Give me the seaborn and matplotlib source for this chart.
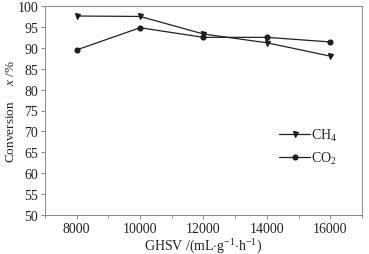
import matplotlib
matplotlib.use("Agg")
import matplotlib.pyplot as plt
import seaborn as sns
import pandas as pd
from matplotlib.ticker import MultipleLocator

ghsv = [8000, 10000, 12000, 14000, 16000]
ch4 = [97.6, 97.5, 93.3, 91.2, 88.0]
co2 = [89.5, 94.8, 92.5, 92.5, 91.4]

sns.set_style("ticks")
plt.rcParams['font.family'] = ['Liberation Serif', 'DejaVu Serif']
plt.rcParams['mathtext.fontset'] = 'custom'
plt.rcParams['mathtext.rm'] = 'Liberation Serif'
plt.rcParams['mathtext.it'] = 'Liberation Serif:italic'

df = pd.DataFrame({'GHSV': ghsv * 2,
                   'Conv': ch4 + co2,
                   'gas': ['CH$_4$'] * 5 + ['CO$_2$'] * 5})

fig = plt.figure(figsize=(3.69, 2.55), dpi=100)
ax = fig.add_axes([45 / 369, 1 - 216 / 255, 317 / 369, 209 / 255])

sns.lineplot(data=df, x='GHSV', y='Conv', hue='gas', style='gas',
             markers={'CH$_4$': 'v', 'CO$_2$': 'o'}, dashes=False,
             palette={'CH$_4$': '#222222', 'CO$_2$': '#222222'},
             markersize=3.6, linewidth=0.9, markeredgecolor='#111111', ax=ax)

ax.set_xlim(7000, 17000)
ax.set_ylim(50, 100)
ax.xaxis.set_major_locator(MultipleLocator(2000))
ax.xaxis.set_minor_locator(MultipleLocator(1000))
ax.yaxis.set_major_locator(MultipleLocator(5))
ax.tick_params(direction='out', length=3, width=0.6, labelsize=10, pad=2,
               colors='#777777', labelcolor='#222222')
ax.tick_params(which='minor', direction='out', length=2, width=0.6, colors='#777777')
for s in ax.spines.values():
    s.set_visible(True)
    s.set_color('#888888')
    s.set_linewidth(0.7)

ax.set_xlabel(r'GHSV /(mL$\cdot$g$^{-1}$$\cdot$h$^{-1}$)', fontsize=10, labelpad=1, color='#222222')
ax.set_ylabel(r'Conversion     $x$ /%', fontsize=9.5, labelpad=0, color='#222222')

leg = ax.legend(loc='center left', bbox_to_anchor=(0.7, 0.33), frameon=False,
                fontsize=10, handlelength=2.2, handletextpad=0.1, labelspacing=0.5)
for t in leg.get_texts():
    t.set_color('#222222')

fig.savefig('out.png', dpi=100)
